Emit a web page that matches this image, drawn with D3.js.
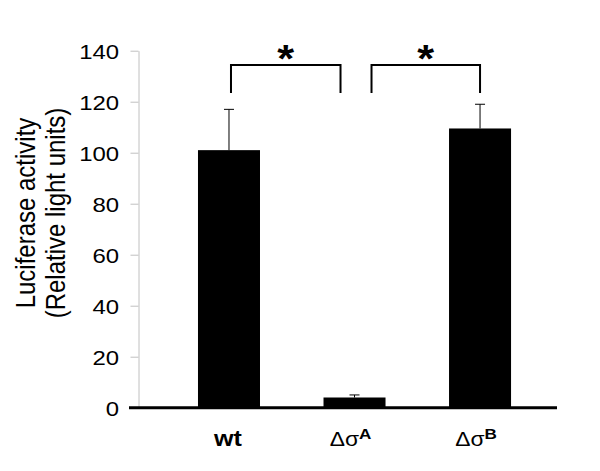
<!DOCTYPE html>
<html><head><meta charset="utf-8">
<script src="https://cdn.jsdelivr.net/npm/d3@7"></script>
<style>body{margin:0;background:#fff}svg{display:block}</style>
</head><body>
<svg id="c" width="600" height="471"></svg>
<script>
const categories = ["wt", "ΔσA", "ΔσB"];
const labelMain = ["wt", "Δσ", "Δσ"];
const labelSup = ["", "A", "B"];
const values = [101, 4, 109.5];
const errors = [16, 1, 9.5];
const yTicks = [0, 20, 40, 60, 80, 100, 120, 140];
const comparisons = [["wt", "ΔσA"], ["ΔσA", "ΔσB"]];
const compLabels = ["*", "*"];

const SX = 1.14; // horizontal stretch of text in the original
const FONT = "Liberation Sans, Arial, sans-serif";
const svg = d3.select("#c");
const y = d3.scaleLinear().domain([0, 140]).range([407.7, 50.7]);
const x = d3.scaleBand().domain(categories).range([139, 555])
  .paddingInner(0.506).paddingOuter(0.41).align(0.573);

// y axis (grey)
const yAxis = d3.axisLeft(y).tickValues(yTicks).tickSize(8).tickPadding(9).tickSizeOuter(0);
const gy = svg.append("g").attr("transform", "translate(138.5,0)").call(yAxis);
gy.select(".domain").attr("stroke", "#c0c0c0").attr("stroke-width", 1);
gy.selectAll(".tick line").attr("stroke", "#c0c0c0");
gy.selectAll(".tick text").attr("fill", "#000").attr("font-family", FONT)
  .style("font-size", "21px").attr("dy", "0.36em").attr("transform", `scale(${SX},1)`);

// bars
svg.append("g").selectAll("rect").data(categories).join("rect")
  .attr("x", d => x(d)).attr("width", x.bandwidth())
  .attr("y", (d, i) => y(values[i])).attr("height", (d, i) => y(0) - y(values[i]))
  .attr("fill", "#000");

// error bars
const eg = svg.append("g").attr("stroke", "#000").attr("stroke-width", 1);
categories.forEach((d, i) => {
  const cx = x(d) + x.bandwidth() / 2;
  eg.append("line").attr("x1", cx).attr("x2", cx).attr("y1", y(values[i])).attr("y2", y(values[i] + errors[i]));
  eg.append("line").attr("x1", cx - 5).attr("x2", cx + 5).attr("y1", y(values[i] + errors[i])).attr("y2", y(values[i] + errors[i]));
});

// baseline
svg.append("line").attr("x1", 129).attr("x2", 557).attr("y1", y(0)).attr("y2", y(0))
  .attr("stroke", "#000").attr("stroke-width", 3);

// x labels
const xl = svg.append("g").attr("font-family", FONT).attr("fill", "#000");
categories.forEach((d, i) => {
  const cx = x(d) + x.bandwidth() / 2 - (i === 0 ? 1 : 4);
  const t = xl.append("text").attr("transform", `translate(${cx},446) scale(${SX},1)`)
    .attr("text-anchor", "middle");
  if (i === 0) {
    t.attr("font-weight", "bold").style("font-size", "22px").text(labelMain[i]);
  } else {
    t.style("font-size", "20px").append("tspan").text(labelMain[i]);
    t.append("tspan").attr("font-weight", "bold").style("font-size", "15px").attr("dy", -7).text(labelSup[i]);
  }
});

// significance brackets
const bg = svg.append("g");
const bracketTop = 65, bracketBottom = 93;
const offsets = [[2, -14], [17, 0]];
comparisons.forEach((c, i) => {
  const x1 = x(c[0]) + x.bandwidth() / 2 + offsets[i][0];
  const x2 = x(c[1]) + x.bandwidth() / 2 + offsets[i][1];
  bg.append("path").attr("d", `M${x1},${bracketBottom}V${bracketTop}H${x2}V${bracketBottom}`)
    .attr("fill", "none").attr("stroke", "#000").attr("stroke-width", 2);
  bg.append("text").attr("transform", `translate(${(x1 + x2) / 2},72) scale(${SX},1)`)
    .attr("text-anchor", "middle")
    .attr("font-family", FONT).attr("font-weight", "bold")
    .style("font-size", "38px").text(compLabels[i]);
});

// y label
const yl = svg.append("text").attr("transform", `translate(35,213) scale(${SX},1) rotate(-90)`)
  .attr("text-anchor", "middle").attr("font-family", FONT)
  .style("font-size", "24px").attr("fill", "#000");
yl.append("tspan").attr("x", 0).attr("y", 0).text("Luciferase activity");
yl.append("tspan").attr("x", 0).attr("y", 30 / SX).text("(Relative light units)");
</script>
</body></html>
